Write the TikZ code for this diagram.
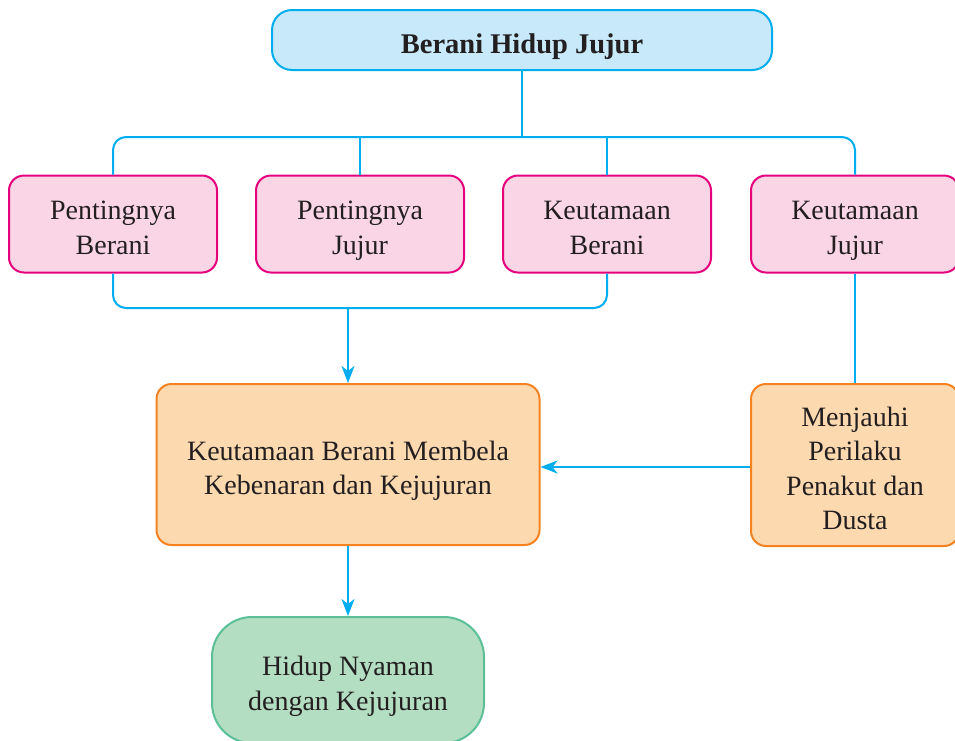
\documentclass[tikz,border=0pt]{standalone}
\usepackage{fontspec}
\setmainfont{Liberation Serif}
\usetikzlibrary{arrows.meta}

\definecolor{linkblue}{HTML}{00AEEF}
\definecolor{topfill}{HTML}{C7E9F9}
\definecolor{pinkline}{HTML}{E5007D}
\definecolor{pinkfill}{HTML}{F9D5E5}
\definecolor{orangeline}{HTML}{F58220}
\definecolor{orangefill}{HTML}{FDD9AF}
\definecolor{greenline}{HTML}{5CBF98}
\definecolor{greenfill}{HTML}{B3DEC1}
\definecolor{inkgray}{HTML}{231F20}

\tikzset{
    box/.style={draw, line width=2pt, align=center, text=inkgray, inner sep=0pt,
        font=\fontsize{28}{34.5}\selectfont, text height=60.5pt, text depth=0pt},
    satubaris/.style={text height=26pt},
    empatbaris/.style={text height=129.5pt},
    topbox/.style={box, satubaris, draw=linkblue, fill=topfill, rounded corners=20pt,
        minimum width=500pt, minimum height=60pt, font=\fontsize{28.5}{34.5}\selectfont\bfseries},
    pinkbox/.style={box, draw=pinkline, fill=pinkfill, rounded corners=15pt,
        minimum width=208pt, minimum height=97pt},
    orangebox/.style={box, draw=orangeline, fill=orangefill, rounded corners=15pt},
    greenbox/.style={box, draw=greenline, fill=greenfill, rounded corners=40pt,
        minimum width=272pt, minimum height=126pt},
    link/.style={draw=linkblue, line width=2pt, rounded corners=13pt},
    arrowlink/.style={link, -{Stealth[length=17pt,width=13pt,inset=5pt]}}
}

\begin{document}
\begin{tikzpicture}[x=1pt, y=-1pt]
    \useasboundingbox (0,0) rectangle (955,740);
    % judul
    \node [topbox] (judul) at (522,40) {Berani Hidup Jujur};
    % baris kotak merah muda
    \node [pinkbox] (pberani) at (113,224) {Pentingnya\\Berani};
    \node [pinkbox] (pjujur) at (360,224) {Pentingnya\\Jujur};
    \node [pinkbox] (kberani) at (607,224) {Keutamaan\\Berani};
    \node [pinkbox] (kjujur) at (855,224) {Keutamaan\\Jujur};
    % kotak oranye
    \node [orangebox, minimum width=383pt, minimum height=161pt] (membela) at (348,464.5)
        {Keutamaan Berani Membela\\Kebenaran dan Kejujuran};
    \node [orangebox, empatbaris, minimum width=208pt, minimum height=162pt] (menjauhi) at (855,465)
        {Menjauhi\\Perilaku\\Penakut dan\\Dusta};
    % kotak hijau
    \node [greenbox] (nyaman) at (348,680) {Hidup Nyaman\\dengan Kejujuran};

    \coordinate (atas) at (522,137);
    \coordinate (bawah) at (348,308);
    \draw [link] (judul.south) -- (atas);
    \draw [link] (pberani.north) -- (pberani.north |- atas) -- (kjujur.north |- atas) -- (kjujur.north);
    \draw [link] (pjujur.north) -- (pjujur.north |- atas);
    \draw [link] (kberani.north) -- (kberani.north |- atas);
    \draw [link] (pberani.south) -- (pberani.south |- bawah) -- (kberani.south |- bawah) -- (kberani.south);
    \draw [arrowlink] (bawah) -- (membela.north);
    \draw [link] (kjujur.south) -- (menjauhi.north);
    \draw [arrowlink] ([yshift=-2]menjauhi.west) -- ([yshift=-2]menjauhi.west -| membela.east);
    \draw [arrowlink] (membela.south) -- (nyaman.north);
\end{tikzpicture}
\end{document}
